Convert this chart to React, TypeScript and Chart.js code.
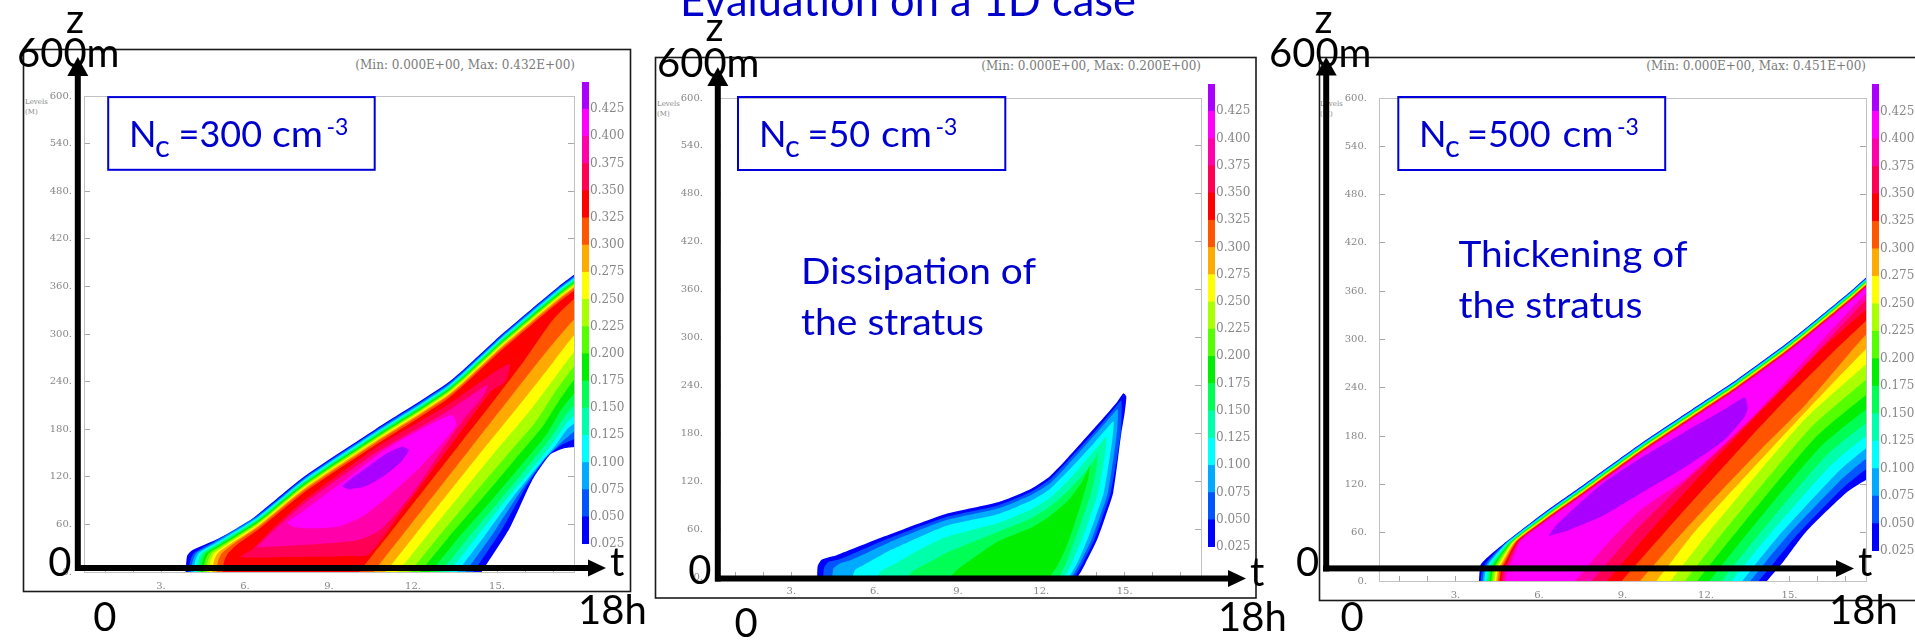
import React, { useEffect, useRef } from "react";
import { Chart, registerables } from "chart.js";

Chart.register(...registerables);

// ---------------- data ----------------
const levelValues = [0.025, 0.05, 0.075, 0.1, 0.125, 0.15, 0.175, 0.2, 0.225, 0.25, 0.275, 0.3, 0.325, 0.35, 0.375, 0.4, 0.425];
const levelColors = [
  "#0000ff", "#0055ff", "#00aaff", "#00ffff", "#00ffaa", "#00ff55", "#00ee00", "#55ff00", "#aaff00",
  "#ffff00", "#ffaa00", "#ff5500", "#ff0000", "#ff0055", "#ff00aa", "#ff00ff", "#aa00ff",
];
const colorbarEdges = [0.025, 0.05, 0.075, 0.1, 0.125, 0.15, 0.175, 0.2, 0.225, 0.25, 0.275, 0.3, 0.325, 0.35, 0.375, 0.4, 0.425, 0.45];
const colorbarTicks = [0.025, 0.05, 0.075, 0.1, 0.125, 0.15, 0.175, 0.2, 0.225, 0.25, 0.275, 0.3, 0.325, 0.35, 0.375, 0.4, 0.425];
const hourTicks = [1, 2, 3, 4, 5, 6, 7, 8, 9, 10, 11, 12, 13, 14, 15, 16, 17];
const labelledHours = [3, 6, 9, 12, 15];
const heightTicks = [0, 60, 120, 180, 240, 300, 360, 420, 480, 540, 600];
const maxValues = ["0.432E+00", "0.200E+00", "0.451E+00"];

// Filled contour regions (value >= level), as [time h, height m] outlines, lowest level first
const nc300Contours = [
  [[3.88,0],[3.93,20],[4.1,27],[4.8,38],[6.0,60],[8.1,120],[10.66,180],[13.3,240],[15.18,300],[17.2,360],[17.8,376],[18.3,390],[18.3,165],[17.8,158],[17.4,156],[16.9,148],[16.25,115],[15.45,55],[14.45,0]],
  [[3.98,0],[4.04,14],[4.18,24],[4.87,37.8],[6.5,72.8],[8.1,118.5],[10.66,178.5],[13.3,238.5],[15.18,298.5],[17.2,358.5],[17.8,374.5],[18.3,388.5],[18.3,176],[17.8,168],[17.3,160],[16.8,146],[16.05,108],[15.15,52],[14.16,0]],
  [[4.07,0],[4.13,14],[4.27,24],[4.93,37.4],[6.5,71.3],[8.1,117],[10.66,177],[13.3,237],[15.18,297],[17.2,357],[17.8,373],[18.3,387],[18.3,186],[17.8,178],[17.2,160],[16.65,140],[15.85,102],[14.85,48],[13.87,0]],
  [[4.16,0],[4.22,14],[4.36,24],[5.0,37.1],[6.5,69.8],[8.1,115.5],[10.66,175.5],[13.3,235.5],[15.18,295.5],[17.2,355.5],[17.8,371.5],[18.3,385.5],[18.3,196],[17.8,188],[17.5,180],[17.1,160],[16.5,135],[15.6,96],[14.55,45],[13.58,0]],
  [[4.25,0],[4.31,14],[4.45,24],[5.06,36.8],[6.5,68.3],[8.1,114],[10.66,174],[13.3,234],[15.18,294],[17.2,354],[17.8,370],[18.3,384],[18.3,206],[17.8,198],[17.5,188],[17.0,163],[16.3,132],[15.35,92],[14.25,43],[13.29,0]],
  [[4.33,0],[4.39,14],[4.53,24],[5.12,36.3],[6.5,66.8],[8.1,112.5],[10.66,172.5],[13.3,232.5],[15.18,292.5],[17.2,352.5],[17.8,368.5],[18.3,382.5],[18.3,219],[17.8,211],[17.4,195],[16.9,168],[16.1,133],[15.1,90],[13.95,42],[12.99,0]],
  [[4.42,0],[4.48,14],[4.62,24],[5.18,36],[6.5,65.3],[8.1,111],[10.66,171],[13.3,231],[15.18,291],[17.2,351],[17.8,367],[18.3,381],[18.3,234],[17.8,226],[17.3,205],[16.8,175],[15.9,136],[14.8,90],[13.6,42],[12.63,0]],
  [[4.51,0],[4.57,14],[4.71,24],[5.24,35.6],[6.5,63.8],[8.1,109.5],[10.66,169.5],[13.3,229.5],[15.18,289.5],[17.2,349.5],[17.8,365.5],[18.3,379.5],[18.3,252],[17.8,244],[17.2,215],[16.6,182],[15.6,140],[14.45,92],[13.25,43],[12.26,0]],
  [[4.61,0],[4.67,14],[4.81,24],[5.31,35.3],[6.5,62.3],[8.1,108],[10.66,168],[13.3,228],[15.18,288],[17.2,348],[17.8,364],[18.3,378],[18.3,269],[17.8,261],[17.1,228],[16.4,190],[15.3,145],[14.1,95],[12.9,44],[11.9,0]],
  [[4.71,0],[4.77,14],[4.91,24],[5.38,35.1],[6.5,60.8],[8.1,106.5],[10.66,166.5],[13.3,226.5],[15.18,286.5],[17.2,346.5],[17.8,362.5],[18.3,376.5],[18.3,287],[17.8,279],[17.0,242],[16.1,200],[14.9,150],[13.7,98],[12.5,46],[11.46,0]],
  [[4.83,0],[4.89,14],[5.03,24],[5.47,35.2],[6.5,59.3],[8.1,105],[10.66,165],[13.3,225],[15.18,285],[17.2,345],[17.8,361],[18.3,375],[18.3,308],[17.8,300],[16.8,255],[15.7,206],[14.5,154],[13.3,101],[12.1,48],[11.02,0]],
  [[4.98,0],[5.04,14],[5.18,24],[5.57,35.1],[6.5,57.3],[8.1,103],[10.66,163],[13.3,223],[15.18,283],[17.2,343],[17.8,359],[18.3,373],[18.3,328],[17.8,320],[16.5,266],[15.3,212],[14.1,158],[12.9,104],[11.7,50],[10.59,0]],
  [[5.2,0],[5.26,14],[5.4,24],[5.72,34.8],[6.5,54.3],[8.1,100],[10.66,160],[13.3,220],[15.18,280],[17.2,340],[17.8,356],[18.3,370],[18.3,350],[17.8,345],[17.0,318],[16.0,268],[14.8,212],[13.6,158],[12.4,104],[11.2,50],[10.08,0]],
  [[5.8,19],[6.3,30],[7.0,55],[8.1,90],[10.66,156],[13.3,212],[14.7,247],[15.45,262],[15.3,240],[14.8,228],[13.7,176],[12.6,124],[11.5,72],[10.4,22],[9.5,20],[7.5,19],[6.3,18]],
  [[6.4,31],[6.9,48],[8.1,86],[10.66,150],[13.3,204],[14.67,236],[14.5,222],[13.8,192],[13.0,152],[12.2,110],[11.5,78],[10.8,52],[10.0,40],[8.5,35],[7.0,32]],
  [[7.5,62],[8.2,80],[9.5,114],[11.0,154],[12.5,184],[13.4,198],[13.55,186],[13.1,165],[12.2,130],[11.2,98],[10.2,70],[9.3,57],[8.2,55],[7.7,57]],
  [[9.45,108],[9.8,118],[10.4,133],[11.0,148],[11.6,158],[11.85,154],[11.6,140],[11.0,122],[10.3,108],[9.7,104]],
];

const nc50Contours = [
  [[3.93,0],[3.95,14],[4.1,22],[4.6,27],[6.36,51],[8.56,79],[10.47,94],[11.65,111],[12.3,126],[12.97,150],[14.0,190],[14.7,218],[14.95,230],[15.06,226],[15.0,205],[14.88,180],[14.59,106],[14.3,75],[14.0,46],[13.6,18],[13.4,5],[13.3,0]],
  [[4.15,0],[4.18,12],[4.35,19],[4.8,23],[6.4,47],[8.56,75],[10.47,90],[11.65,107],[12.3,122],[12.97,146],[14.0,185],[14.65,212],[14.88,221],[14.86,180],[14.5,106],[14.2,75],[13.9,46],[13.5,18],[13.2,0]],
  [[4.47,0],[4.52,11],[4.75,17],[5.2,22],[6.5,43],[8.56,71],[10.47,86],[11.65,103],[12.3,117],[12.97,141],[13.95,179],[14.55,203],[14.75,210],[14.72,180],[14.4,106],[14.1,75],[13.8,46],[13.4,18],[13.1,0]],
  [[5.2,0],[5.3,9],[5.6,15],[6.6,34],[8.56,64],[10.47,79],[11.65,96],[12.3,110],[12.97,133],[13.9,168],[14.4,188],[14.6,195],[14.55,170],[14.25,106],[13.95,75],[13.65,46],[13.3,18],[13.0,0]],
  [[6.09,0],[6.25,8],[6.8,18],[7.5,32],[8.56,50],[10.47,68],[11.65,85],[12.3,99],[12.97,121],[13.7,150],[14.2,170],[14.35,176],[14.3,155],[14.05,106],[13.75,75],[13.45,46],[13.1,18],[12.85,0]],
  [[7.19,0],[7.4,8],[8.0,19],[8.56,30],[10.47,57],[11.65,74],[12.3,88],[12.97,108],[13.6,132],[14.0,152],[14.05,160],[14.0,140],[13.8,106],[13.5,75],[13.2,46],[12.9,18],[12.65,0]],
  [[8.73,0],[9.0,10],[9.6,25],[10.47,45],[11.65,62],[12.3,76],[12.97,96],[13.45,118],[13.72,138],[13.75,142],[13.7,125],[13.5,100],[13.25,72],[12.95,42],[12.6,15],[12.3,0]],
];

const nc500Contours = [
  [[3.84,0],[3.9,20],[4.13,29],[4.72,46],[6.19,85],[7.66,121],[9.71,172],[11.92,223],[13.1,250],[15.07,300],[17.2,360],[17.72,376],[18.3,392],[18.3,132],[17.72,125],[17.05,110],[15.59,61],[14.8,25],[14.19,0]],
  [[3.9,0],[3.96,14],[4.12,24],[4.76,46.2],[6.19,84.2],[7.66,120.2],[9.71,171.2],[11.92,222.2],[13.1,249.2],[15.07,299.2],[17.2,359.2],[17.72,375.2],[18.3,391.2],[18.3,146],[17.72,138],[16.9,115],[15.29,58],[14.5,25],[13.89,0]],
  [[3.97,0],[4.03,14],[4.19,24],[4.8,46.6],[6.19,83.4],[7.66,119.4],[9.71,170.4],[11.92,221.4],[13.1,248.4],[15.07,298.4],[17.2,358.4],[17.72,374.4],[18.3,390.4],[18.3,160],[17.72,151],[16.8,124],[15.0,59],[14.2,26],[13.6,0]],
  [[4.03,0],[4.09,14],[4.25,24],[4.84,46.9],[6.19,82.6],[7.66,118.6],[9.71,169.6],[11.92,220.6],[13.1,247.6],[15.07,297.6],[17.2,357.6],[17.72,373.6],[18.3,389.6],[18.3,174],[17.72,164],[16.7,134],[14.71,60],[13.9,26],[13.31,0]],
  [[4.1,0],[4.16,14],[4.32,24],[4.89,47.3],[6.19,81.8],[7.66,117.8],[9.71,168.8],[11.92,219.8],[13.1,246.8],[15.07,296.8],[17.2,356.8],[17.72,372.8],[18.3,388.8],[18.3,190],[17.72,179],[16.5,144],[14.34,60],[13.55,27],[12.94,0]],
  [[4.16,0],[4.22,14],[4.38,24],[4.93,47.5],[6.19,81],[7.66,117],[9.71,168],[11.92,219],[13.1,246],[15.07,296],[17.2,356],[17.72,372],[18.3,388],[18.3,206],[17.72,195],[16.3,155],[13.97,61],[13.18,27],[12.57,0]],
  [[4.22,0],[4.28,14],[4.44,24],[4.97,47.7],[6.19,80.2],[7.66,116.2],[9.71,167.2],[11.92,218.2],[13.1,245.2],[15.07,295.2],[17.2,355.2],[17.72,371.2],[18.3,387.2],[18.3,224],[17.72,212],[16.1,166],[13.53,61],[12.74,27],[12.13,0]],
  [[4.28,0],[4.34,14],[4.5,24],[5.01,48],[6.19,79.4],[7.66,115.4],[9.71,166.4],[11.92,217.4],[13.1,244.4],[15.07,294.4],[17.2,354.4],[17.72,370.4],[18.3,386.4],[18.3,243],[17.72,230],[15.9,177],[13.09,61],[12.3,27],[11.69,0]],
  [[4.34,0],[4.4,14],[4.56,24],[5.05,48.2],[6.19,78.6],[7.66,114.6],[9.71,165.6],[11.92,216.6],[13.1,243.6],[15.07,293.6],[17.2,353.6],[17.72,369.6],[18.3,385.6],[18.3,262],[17.72,249],[15.7,188],[12.65,62],[11.86,27],[11.25,0]],
  [[4.4,0],[4.46,14],[4.62,24],[5.08,48.4],[6.19,77.8],[7.66,113.8],[9.71,164.8],[11.92,215.8],[13.1,242.8],[15.07,292.8],[17.2,352.8],[17.72,368.8],[18.3,384.8],[18.3,282],[17.72,268],[15.5,199],[12.13,62],[11.34,27],[10.73,0]],
  [[4.46,0],[4.52,14],[4.68,24],[5.12,48.7],[6.19,77],[7.66,113],[9.71,164],[11.92,215],[13.1,242],[15.07,292],[17.2,352],[17.72,368],[18.3,384],[18.3,301],[17.72,287],[15.3,200],[11.62,62],[10.83,27],[10.22,0]],
  [[4.52,0],[4.58,14],[4.74,24],[5.16,48.9],[6.19,76.2],[7.66,112.2],[9.71,163.2],[11.92,214.2],[13.1,241.2],[15.07,291.2],[17.2,351.2],[17.72,367.2],[18.3,383.2],[18.3,320],[17.72,305],[15.6,220],[14.1,168],[12.6,114],[11.1,58],[9.63,0]],
  [[4.58,0],[4.64,14],[4.8,24],[5.2,49.1],[6.19,75.4],[7.66,111.4],[9.71,162.4],[11.92,213.4],[13.1,240.4],[15.07,290.4],[17.2,350.4],[17.72,366.4],[18.3,382.4],[18.3,338],[17.72,322],[16.5,282],[15.0,230],[13.5,175],[12.0,118],[10.5,60],[8.97,0]],
  [[4.64,0],[4.7,14],[4.86,24],[5.24,49.3],[6.19,74.5],[7.66,110.5],[9.71,161.5],[11.92,212.5],[13.1,239.5],[15.07,289.5],[17.2,349.5],[17.72,365.5],[18.3,381.5],[18.3,352],[17.72,336],[16.0,283],[14.5,230],[13.0,176],[11.5,120],[10.0,62],[8.45,0]],
  [[4.7,0],[4.76,14],[4.92,24],[5.28,49.3],[6.19,73.5],[7.66,109.5],[9.71,160.5],[11.92,211.5],[13.1,238.5],[15.07,288.5],[17.2,348.5],[17.72,364.5],[18.3,380.5],[18.3,362],[17.72,348],[15.4,262],[13.9,210],[12.4,160],[10.9,112],[9.4,60],[7.9,0]],
  [[4.8,0],[4.86,14],[5.02,24],[5.34,50],[6.19,72.5],[7.66,108.5],[9.71,159.5],[11.92,210.5],[13.1,237.5],[15.07,287.5],[17.2,347.5],[17.72,363.5],[18.3,379.5],[18.3,368],[17.72,356],[16.2,300],[14.8,246],[13.7,205],[12.65,170],[11.18,125],[9.71,90],[8.5,48],[7.3,0]],
  [[6.34,56],[6.63,70],[8.24,120],[9.71,154],[11.18,184],[12.65,213],[13.39,228],[13.5,215],[13.39,204],[12.65,175],[11.18,140],[9.71,110],[8.24,80],[7.0,62]],
];

// ---------------- styling ----------------
const TICK_GRAY = "#878787";
const FRAME_GRAY = "#c2c2c2";
const SERIF = "'DejaVu Serif', serif";
const BLUE = "#0000cc";
const SANS = "Lato, 'Open Sans', sans-serif";

type Box = { left: number; top: number; width: number; height: number };

function ContourChart({ contours, plot }: { contours: number[][][]; plot: Box }) {
  const ref = useRef<HTMLCanvasElement>(null);
  const W = plot.width + 70;
  const H = plot.height + 40;
  useEffect(() => {
    const tickFont = { family: SERIF, size: 10 };
    const datasets = contours.map((poly, i) => ({
      label: ">= " + levelValues[i],
      data: poly.map((p) => ({ x: p[0], y: p[1] })),
      showLine: true,
      fill: "shape",
      backgroundColor: levelColors[i],
      borderColor: "rgba(0,0,0,0)",
      borderWidth: 0,
      pointRadius: 0,
      pointHoverRadius: 0,
      tension: 0.2,
      order: 100 - i,
    }));
    const chart = new Chart(ref.current as HTMLCanvasElement, {
      type: "scatter",
      data: { datasets } as any,
      options: {
        animation: false,
        responsive: false,
        maintainAspectRatio: false,
        events: [],
        layout: { padding: 0 },
        plugins: { legend: { display: false }, tooltip: { enabled: false } },
        scales: {
          x: {
            type: "linear",
            position: "bottom",
            min: 0.25,
            max: 17.75,
            afterBuildTicks: (s: any) => { s.ticks = hourTicks.map((v) => ({ value: v })); },
            afterFit: (s: any) => { s.height = 30; },
            ticks: {
              autoSkip: false, maxRotation: 0, padding: 13, color: TICK_GRAY, font: tickFont,
              callback: (v: any) => (labelledHours.includes(Number(v)) ? v + "." : ""),
            },
            grid: { drawOnChartArea: false, drawTicks: true, tickLength: -5, color: "#a8a8a8" },
            border: { display: true, color: FRAME_GRAY, width: 1 },
          },
          xTop: {
            type: "linear",
            position: "top",
            min: 0.25,
            max: 17.75,
            afterFit: (s: any) => { s.height = 10; },
            ticks: { display: false },
            grid: { drawOnChartArea: false, drawTicks: false },
            border: { display: true, color: FRAME_GRAY, width: 1 },
          },
          y: {
            type: "linear",
            position: "left",
            min: 0,
            max: 600,
            afterBuildTicks: (s: any) => { s.ticks = heightTicks.map((v) => ({ value: v })); },
            afterFit: (s: any) => { s.width = 60; },
            ticks: { autoSkip: false, padding: 18, color: TICK_GRAY, font: tickFont, callback: (v: any) => v + "." },
            grid: { drawOnChartArea: false, drawTicks: true, tickLength: -6, color: "#a8a8a8" },
            border: { display: true, color: FRAME_GRAY, width: 1 },
          },
          yRight: {
            type: "linear",
            position: "right",
            min: 0,
            max: 600,
            afterBuildTicks: (s: any) => { s.ticks = heightTicks.map((v) => ({ value: v })); },
            afterFit: (s: any) => { s.width = 10; },
            ticks: { display: false },
            grid: { drawOnChartArea: false, drawTicks: true, tickLength: -6, color: "#a8a8a8" },
            border: { display: true, color: FRAME_GRAY, width: 1 },
          },
        },
      } as any,
    });
    return () => chart.destroy();
  }, [contours]);
  return (
    <canvas
      ref={ref}
      width={W}
      height={H}
      style={{ position: "absolute", left: plot.left - 60, top: plot.top - 10, width: W, height: H }}
    />
  );
}

function Colorbar({ bar }: { bar: Box }) {
  const ref = useRef<HTMLCanvasElement>(null);
  const W = bar.width + 45;
  const H = bar.height + 20;
  useEffect(() => {
    const chart = new Chart(ref.current as HTMLCanvasElement, {
      type: "bar",
      data: {
        labels: [""],
        datasets: levelColors.map((c, i) => ({
          label: String(levelValues[i]),
          data: [[colorbarEdges[i], colorbarEdges[i + 1]]],
          backgroundColor: c,
          borderWidth: 0,
          grouped: false,
          barPercentage: 1,
          categoryPercentage: 1,
        })),
      } as any,
      options: {
        animation: false,
        responsive: false,
        maintainAspectRatio: false,
        events: [],
        layout: { padding: { top: 10, bottom: 10, left: 0, right: 0 } },
        plugins: { legend: { display: false }, tooltip: { enabled: false } },
        scales: {
          x: { display: false },
          y: {
            position: "right",
            min: 0.025,
            max: 0.45,
            afterBuildTicks: (s: any) => { s.ticks = colorbarTicks.map((v) => ({ value: v })); },
            afterFit: (s: any) => { s.width = 45; },
            ticks: {
              autoSkip: false, padding: 1, color: TICK_GRAY, font: { family: SERIF, size: 12 },
              callback: (v: any) => Number(v).toFixed(3),
            },
            grid: { display: false, drawTicks: false },
            border: { display: false },
          },
        },
      } as any,
    });
    return () => chart.destroy();
  }, []);
  return (
    <canvas
      ref={ref}
      width={W}
      height={H}
      style={{ position: "absolute", left: bar.left, top: bar.top - 10, width: W, height: H }}
    />
  );
}

function Arrows({ vx, vTop, vHead, hy, hLeft, hHead, hTip }: any) {
  return (
    <g fill="#000">
      <rect x={vx - 3} y={vHead - 1} width={6} height={hy + 3 - vHead + 1} />
      <polygon points={`${vx},${vTop} ${vx - 10.5},${vHead} ${vx + 10.5},${vHead}`} />
      <rect x={hLeft} y={hy - 3} width={hHead - hLeft + 1} height={6} />
      <polygon points={`${hTip},${hy} ${hHead},${hy - 8.5} ${hHead},${hy + 8.5}`} />
    </g>
  );
}

function BigLabel({ x, y, children }: any) {
  return (
    <text x={x} y={y} fontFamily={SANS} fontSize={40} fill="#000">{children}</text>
  );
}

function NcBox({ box, nx, conc, eqX, cmX }: any) {
  return (
    <g>
      <rect x={box[0]} y={box[1]} width={box[2]} height={box[3]} fill="none" stroke="#0000dd" strokeWidth={2} />
      <text x={nx} y={147} fontFamily={SANS} fontSize={36} fill={BLUE}>N</text>
      <text x={nx + 26} y={157} fontFamily={SANS} fontSize={31} fill={BLUE}>c</text>
      <text x={eqX} y={147} fontFamily={SANS} fontSize={36} fill={BLUE}>{"=" + conc}</text>
      <text x={cmX} y={147} fontFamily={SANS} fontSize={36} fill={BLUE} textLength={51} lengthAdjust="spacingAndGlyphs">cm</text>
      <text x={cmX + 54.5} y={134.7} fontFamily={SANS} fontSize={23} fill={BLUE}>-3</text>
    </g>
  );
}

function MinMax({ right, y, max }: any) {
  return (
    <text x={right} y={y} textAnchor="end" fontFamily={SERIF} fontSize={12} fill="#7a7a7a">
      {"(Min: 0.000E+00, Max: " + max + ")"}
    </text>
  );
}

function LevelsLabel({ x, y }: any) {
  return (
    <g fontFamily={SERIF} fontSize={7} fill="#888">
      <text x={x} y={y}>Levels</text>
      <text x={x} y={y + 10}>(M)</text>
    </g>
  );
}

export default function App() {
  const p1 = { left: 84, top: 82, width: 490, height: 490 };
  const p2 = { left: 715, top: 84, width: 486, height: 493 };
  const p3 = { left: 1379, top: 84, width: 487, height: 497 };
  return (
    <div style={{ position: "absolute", left: 0, top: 0, width: 1915, height: 641, overflow: "hidden", background: "#fff" }}>
      <svg width={1915} height={641} style={{ position: "absolute", left: 0, top: 0 }}>
        <rect x={23.5} y={49.5} width={607} height={542} fill="#fff" stroke="#1a1a1a" strokeWidth={1.6} />
        <rect x={655.5} y={57.5} width={600.5} height={540.5} fill="#fff" stroke="#1a1a1a" strokeWidth={1.6} />
        <rect x={1319.5} y={57.5} width={700} height={543} fill="#fff" stroke="#1a1a1a" strokeWidth={1.6} />
        <MinMax right={575} y={68.5} max={maxValues[0]} />
        <MinMax right={1201} y={69.5} max={maxValues[1]} />
        <MinMax right={1866} y={69.5} max={maxValues[2]} />
        <LevelsLabel x={25} y={104} />
        <LevelsLabel x={657} y={106} />
        <LevelsLabel x={1320} y={106} />
      </svg>

      <ContourChart contours={nc300Contours} plot={p1} />
      <ContourChart contours={nc50Contours} plot={p2} />
      <ContourChart contours={nc500Contours} plot={p3} />
      <Colorbar bar={{ left: 582, top: 82, width: 7, height: 462 }} />
      <Colorbar bar={{ left: 1208, top: 84, width: 7, height: 463 }} />
      <Colorbar bar={{ left: 1872, top: 84, width: 7, height: 467 }} />

      <svg width={1915} height={641} style={{ position: "absolute", left: 0, top: 0 }}>
        <text x={680} y={16.3} fontFamily={SANS} fontSize={44} fill={BLUE} textLength={456} lengthAdjust="spacingAndGlyphs">
          Evaluation on a 1D case
        </text>

        <NcBox box={[108.2, 97.1, 266.5, 72.7]} nx={129} conc="300" eqX={178.5} cmX={272} />
        <NcBox box={[738, 97, 267.3, 73]} nx={759} conc="50" eqX={807.5} cmX={881} />
        <NcBox box={[1398.3, 97, 266.9, 73]} nx={1419} conc="500" eqX={1467} cmX={1562.5} />

        <text x={801} y={283.7} fontFamily={SANS} fontSize={37} fill={BLUE} textLength={235} lengthAdjust="spacingAndGlyphs">Dissipation of</text>
        <text x={801} y={334.7} fontFamily={SANS} fontSize={37} fill={BLUE} textLength={183} lengthAdjust="spacingAndGlyphs">the stratus</text>
        <text x={1458.5} y={267.3} fontFamily={SANS} fontSize={37} fill={BLUE} textLength={229} lengthAdjust="spacingAndGlyphs">Thickening of</text>
        <text x={1458.5} y={317.6} fontFamily={SANS} fontSize={37} fill={BLUE} textLength={184} lengthAdjust="spacingAndGlyphs">the stratus</text>

        <Arrows vx={77.8} vTop={57} vHead={76} hy={568} hLeft={75} hHead={588} hTip={606} />
        <Arrows vx={717.8} vTop={67.3} vHead={86} hy={578.5} hLeft={715} hHead={1228} hTip={1246} />
        <Arrows vx={1326.2} vTop={57} vHead={75.5} hy={568.4} hLeft={1323} hHead={1836} hTip={1854} />

        <BigLabel x={66} y={32.7}>z</BigLabel>
        <BigLabel x={17} y={67.3}>600m</BigLabel>
        <BigLabel x={48.3} y={575.5}>0</BigLabel>
        <BigLabel x={610} y={576.3}>t</BigLabel>
        <BigLabel x={93.2} y={630.6}>0</BigLabel>
        <BigLabel x={578} y={623.7}>18h</BigLabel>

        <BigLabel x={705.5} y={41}>z</BigLabel>
        <BigLabel x={657} y={76.7}>600m</BigLabel>
        <BigLabel x={688.3} y={583.7}>0</BigLabel>
        <BigLabel x={1250} y={585.7}>t</BigLabel>
        <BigLabel x={734.4} y={636.7}>0</BigLabel>
        <BigLabel x={1218} y={630.6}>18h</BigLabel>

        <BigLabel x={1314.5} y={32.7}>z</BigLabel>
        <BigLabel x={1269} y={67.3}>600m</BigLabel>
        <BigLabel x={1296} y={575.5}>0</BigLabel>
        <BigLabel x={1858} y={576.3}>t</BigLabel>
        <BigLabel x={1340.5} y={630.6}>0</BigLabel>
        <BigLabel x={1829} y={623.7}>18h</BigLabel>
      </svg>
    </div>
  );
}
